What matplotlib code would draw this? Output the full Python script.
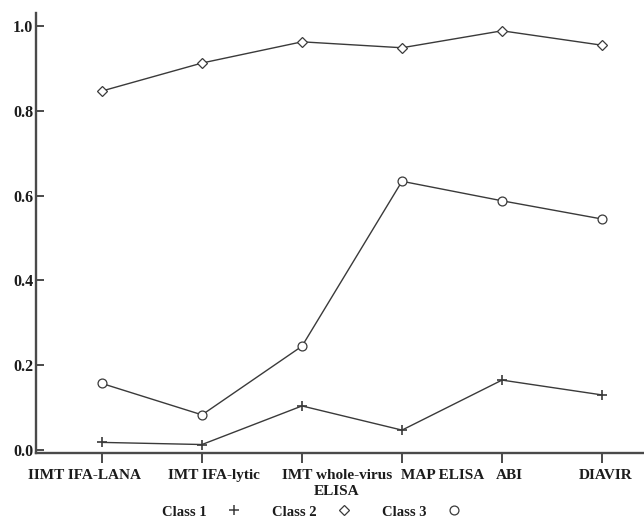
import matplotlib
matplotlib.use("Agg")
import matplotlib.pyplot as plt
from matplotlib.lines import Line2D

# assays on the x axis
assays = ["IIMT IFA-LANA", "IMT IFA-lytic", "IMT whole-virus\nELISA",
          "MAP ELISA", "ABI", "DIAVIR"]

# values
class1 = [0.018, 0.013, 0.104, 0.047, 0.165, 0.130]
class2 = [0.847, 0.913, 0.963, 0.949, 0.989, 0.955]
class3 = [0.157, 0.083, 0.245, 0.634, 0.588, 0.545]

yticks = [0.0, 0.2, 0.4, 0.6, 0.8, 1.0]

# the labels in the source sit a little off their ticks
label_shift = [-0.18, 0.12, 0.35, 0.41, 0.07, 0.04]

ink = "#3a3a3a"
txt = "#1c1c1c"
serif = ["Liberation Serif", "DejaVu Serif"]

fig = plt.figure(figsize=(6.44, 5.26), dpi=100)
ax = fig.add_axes([36 / 644, 73 / 526, 608 / 644, 440 / 526])

x = list(range(len(assays)))
ax.plot(x, class2, color=ink, lw=1.0, marker="D", ms=4.6, mfc="white",
        mec=ink, mew=0.9)
ax.plot(x, class3, color=ink, lw=1.0, marker="o", ms=6.4, mfc="white",
        mec=ink, mew=0.9)
ax.plot(x, class1, color=ink, lw=1.0, marker="+", ms=7, mec=ink, mew=1.2)

ax.set_xlim(-0.66, 5.42)
ax.set_ylim(-0.007, 1.031)

for s in ["top", "right"]:
    ax.spines[s].set_visible(False)
for s in ["left", "bottom"]:
    ax.spines[s].set_color("#4a4a4a")
    ax.spines[s].set_linewidth(1.7)

ax.set_yticks(yticks)
ax.set_yticklabels(["%.1f" % v for v in yticks], family=serif,
                   fontweight="bold", fontsize=11.5, color=txt)
ax.tick_params(axis="y", direction="in", length=6, width=1.4,
               color="#4a4a4a", pad=2)

ax.set_xticks(x)
ax.set_xticklabels([])
ax.tick_params(axis="x", direction="out", length=7, width=1.4,
               color="#4a4a4a")

for i, lab in enumerate(assays):
    ax.annotate(lab, xy=(i + label_shift[i], 0), xycoords=("data", "axes fraction"),
                xytext=(0, -11.5), textcoords="offset points", ha="center",
                va="top", family=serif, fontweight="bold", fontsize=11,
                color=txt, linespacing=1.3, annotation_clip=False)

handles = [
    Line2D([], [], ls="none", marker="+", ms=6.5, mec=ink, mew=1.1),
    Line2D([], [], ls="none", marker="D", ms=4.6, mfc="white", mec=ink, mew=0.9),
    Line2D([], [], ls="none", marker="o", ms=6.4, mfc="white", mec=ink, mew=0.9),
]
fig.legend(handles, ["Class 1", "Class 2", "Class 3"], ncol=3, loc="center left",
           bbox_to_anchor=(162 / 644, 1 - 512 / 526), frameon=False,
           markerfirst=False, handlelength=1.0, handletextpad=1.35,
           columnspacing=2.15, borderpad=0, borderaxespad=0,
           prop={"family": serif, "weight": "bold", "size": 10.5},
           labelcolor=txt)

fig.savefig("out.png", dpi=100, facecolor="white")
